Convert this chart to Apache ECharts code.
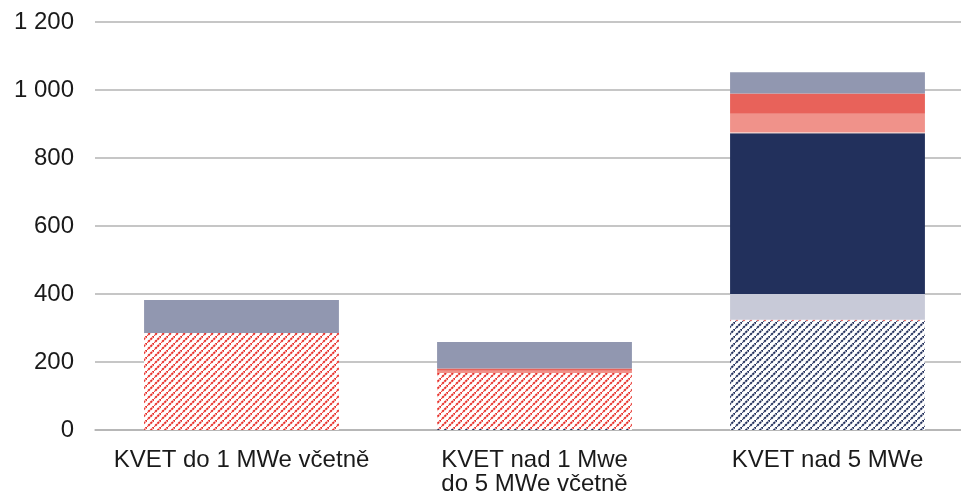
<!DOCTYPE html>
<html>
<head>
<meta charset="utf-8">
<script src="https://cdn.jsdelivr.net/npm/echarts@6/dist/echarts.min.js"></script>
<style>
  html, body { margin: 0; padding: 0; background: #fff; }
  #chart { width: 961px; height: 496px; }
</style>
</head>
<body>
<div id="chart"></div>
<script>
var categories = ["KVET do 1 MWe včetně", "KVET nad 1 Mwe\ndo 5 MWe včetně", "KVET nad 5 MWe"];
var yTicks = [0, 200, 400, 600, 800, 1000, 1200];

// stack order, bottom to top
var navyHatched = [0, 3, 321];
var redHatched = [285, 165, 3];
var lavender = [0, 0, 76];
var navy = [0, 0, 473];
var lightPink = [0, 0, 3];
var salmon = [0, 6, 54];
var red = [0, 7, 60];
var grey = [97, 78, 62];

function stripes(color) {
  var c = document.createElement("canvas");
  c.width = 7;
  c.height = 7;
  var ctx = c.getContext("2d");
  ctx.fillStyle = "#ffffff";
  ctx.fillRect(0, 0, 7, 7);
  ctx.strokeStyle = color;
  ctx.lineWidth = 2;
  ctx.setLineDash([2.4, 0.7]);
  ctx.beginPath();
  ctx.moveTo(-1, 8);
  ctx.lineTo(8, -1);
  ctx.stroke();
  return { image: c, repeat: "repeat" };
}

var dom = document.getElementById("chart");
var myChart = echarts.init(dom, null, { renderer: "canvas" });

function bar(name, data, color) {
  return {
    name: name,
    type: "bar",
    stack: "total",
    barWidth: "66.5%",
    data: data,
    itemStyle: { color: color },
    animation: false
  };
}

var option = {
  animation: false,
  grid: { left: 95, top: 22, bottom: 66, right: -13, containLabel: false, outerBoundsMode: "none" },
  xAxis: {
    type: "category",
    data: categories,
    axisLine: { show: true, lineStyle: { color: "#b3b3b3", width: 1.5 } },
    axisTick: { show: false },
    axisLabel: {
      color: "#1a1a1a",
      fontSize: 24,
      fontFamily: "Liberation Sans, Arial, sans-serif",
      lineHeight: 24,
      margin: 18,
      interval: 0
    }
  },
  yAxis: {
    type: "value",
    min: 0,
    max: 1200,
    interval: 200,
    axisLine: { show: false },
    axisTick: { show: false },
    splitLine: { lineStyle: { color: "#b3b3b3", width: 1.5 } },
    axisLabel: {
      color: "#1a1a1a",
      fontSize: 24,
      fontFamily: "Liberation Sans, Arial, sans-serif",
      margin: 21,
      formatter: function (v) {
        return String(v).replace(/\B(?=(\d{3})+(?!\d))/g, " ");
      }
    }
  },
  series: [
    bar("navyHatched", navyHatched, stripes("#22305c")),
    bar("redHatched", redHatched, stripes("#e8302a")),
    bar("lavender", lavender, "#c8cad8"),
    bar("navy", navy, "#22305c"),
    bar("lightPink", lightPink, "#f6cbc7"),
    bar("salmon", salmon, "#f0928a"),
    bar("red", red, "#e8625a"),
    bar("grey", grey, "#9197b0")
  ]
};

myChart.setOption(option);
</script>
</body>
</html>
